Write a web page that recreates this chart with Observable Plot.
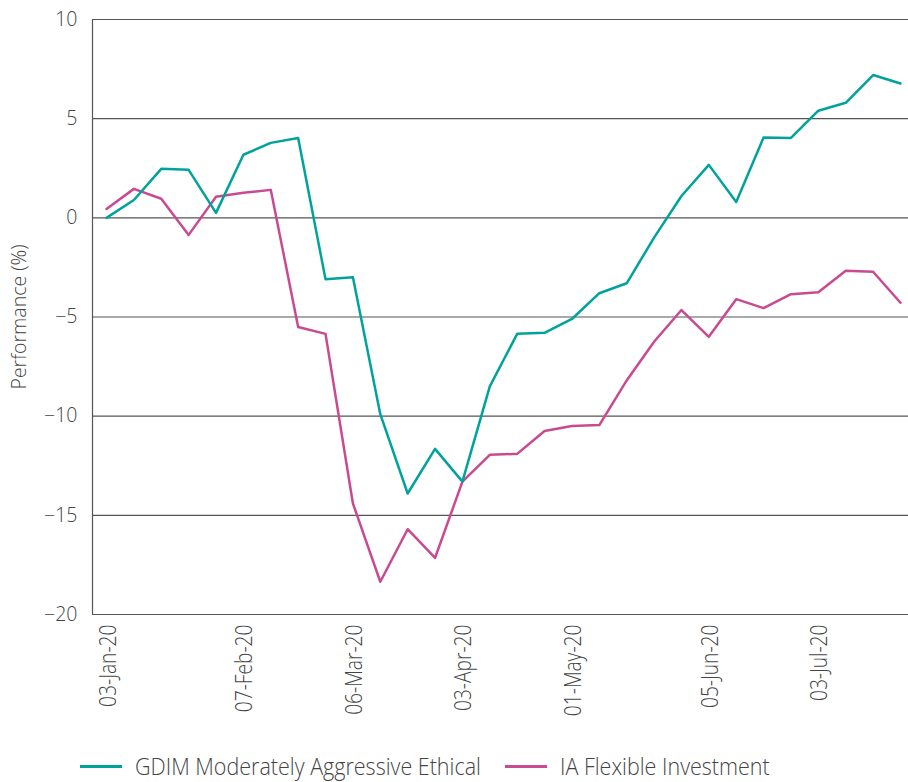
<!DOCTYPE html>
<html><head><meta charset="utf-8">
<script src="https://cdn.jsdelivr.net/npm/d3@7"></script>
<script src="https://cdn.jsdelivr.net/npm/@observablehq/plot@0.6"></script>
<style>
body{margin:0;background:#fff;font-family:"Open Sans",sans-serif;}
#chart{position:relative;width:908px;height:782px;overflow:hidden;}
.item{position:absolute;top:753px;height:26px;display:flex;align-items:center;font-size:23px;color:#444;font-weight:300;white-space:nowrap;line-height:26px;}
.item .lab{display:inline-block;transform:scaleX(0.935);transform-origin:left center;}
.sw{display:inline-block;width:42px;height:3px;margin-right:13px;}
</style></head><body><div id="chart"></div>
<script>
const dates = ["2020-01-03","2020-01-10","2020-01-17","2020-01-24","2020-01-31","2020-02-07","2020-02-14","2020-02-21","2020-02-28","2020-03-06","2020-03-13","2020-03-20","2020-03-27","2020-04-03","2020-04-10","2020-04-17","2020-04-24","2020-05-01","2020-05-08","2020-05-15","2020-05-22","2020-05-29","2020-06-05","2020-06-12","2020-06-19","2020-06-26","2020-07-03","2020-07-10","2020-07-17","2020-07-24"];
const gdim = [0, 0.9, 2.47, 2.42, 0.25, 3.18, 3.78, 4.03, -3.1, -3.0, -9.9, -13.9, -11.65, -13.3, -8.5, -5.85, -5.8, -5.1, -3.8, -3.3, -1.0, 1.1, 2.67, 0.8, 4.05, 4.03, 5.4, 5.8, 7.2, 6.77];
const ia = [0.45, 1.46, 0.96, -0.86, 1.06, 1.26, 1.41, -5.5, -5.85, -14.4, -18.35, -15.7, -17.15, -13.3, -11.95, -11.9, -10.75, -10.5, -10.45, -8.2, -6.25, -4.65, -6.0, -4.1, -4.55, -3.85, -3.75, -2.67, -2.72, -4.28];
const seriesNames = ["GDIM Moderately Aggressive Ethical", "IA Flexible Investment"];
const seriesColors = ["#00a39c", "#c94a90"];
const xTicks = ["2020-01-03","2020-02-07","2020-03-06","2020-04-03","2020-05-01","2020-06-05","2020-07-03"];
const yTicks = [-20, -15, -10, -5, 0, 5, 10];

const day = 864e5;
const parse = s => new Date(s + "T00:00:00Z");
const rows = [];
dates.forEach((d, i) => {
  rows.push({date: parse(d), value: ia[i], series: seriesNames[1]});
});
dates.forEach((d, i) => {
  rows.push({date: parse(d), value: gdim[i], series: seriesNames[0]});
});
const x0 = new Date(+parse(dates[0]) - 3.58 * day);
const x1 = new Date(+parse(dates[dates.length - 1]) + 2.05 * day);

const fmt = d3.utcFormat("%d-%b-%y");
const plot = Plot.plot({
  width: 908, height: 745,
  marginLeft: 92, marginRight: 0, marginTop: 19, marginBottom: 131,
  style: {fontFamily: "'Open Sans', sans-serif", fontWeight: 300, color: "#444", background: "#fff", fontSize: "19.5px"},
  x: {type: "utc", domain: [x0, x1], axis: null},
  y: {domain: [-20, 10]},
  color: {domain: seriesNames, range: seriesColors},
  marks: [
    Plot.gridY(yTicks, {stroke: "#555", strokeOpacity: 1, strokeWidth: 1.2}),
    Plot.ruleX([x0], {y1: -20, y2: 10, stroke: "#555", strokeWidth: 1.2}),
    Plot.axisY(yTicks, {tickSize: 0, tickPadding: 15, fontSize: 19.5, label: "Performance (%)", labelAnchor: "center", labelArrow: "none", labelOffset: 80}),
    Plot.text(xTicks, {x: d => parse(d), frameAnchor: "bottom", text: d => fmt(parse(d)), rotate: -90, textAnchor: "end", dy: 10, dx: 9, fontSize: 24, fill: "#444"}),
    Plot.line(rows, {x: "date", y: "value", z: "series", stroke: "series", strokeWidth: 2.5})
  ]
});
const chart = document.getElementById("chart");
chart.appendChild(plot);
// the reference's rotated date labels are compressed along their length
d3.select(plot).selectAll('g[aria-label="text"] text').each(function() {
  const t = this.getAttribute("transform") || "";
  this.setAttribute("transform", t + " scale(0.8,1)");
});
const lefts = [80, 505];
seriesNames.forEach((n, i) => {
  const it = document.createElement("div");
  it.className = "item";
  it.style.left = lefts[i] + "px";
  it.innerHTML = `<span class="sw" style="background:${seriesColors[i]}"></span><span class="lab">${n}</span>`;
  chart.appendChild(it);
});
</script></body></html>
